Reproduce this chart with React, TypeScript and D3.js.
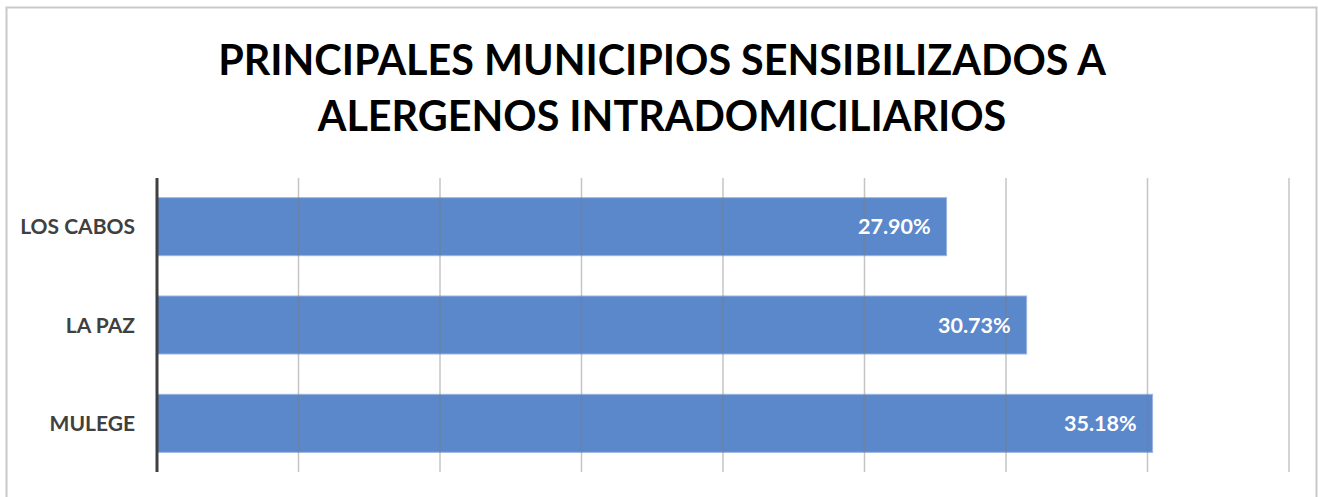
import * as d3 from 'd3';

const TITLE_LINES = ['PRINCIPALES MUNICIPIOS SENSIBILIZADOS A', 'ALERGENOS INTRADOMICILIARIOS'];
const MUNICIPIOS = ['LOS CABOS', 'LA PAZ', 'MULEGE'];
const PORCENTAJES = [27.9, 30.73, 35.18];
const GRID_TICKS = [0, 5, 10, 15, 20, 25, 30, 35, 40];

const WIDTH = 1318;
const HEIGHT = 497;
const FONT = 'Lato, "Open Sans", sans-serif';

export default function App() {
  const plot = { left: 157, right: 1289, top: 178, bottom: 472 };

  const x = d3.scaleLinear().domain([0, 40]).range([plot.left, plot.right]);
  const y = d3.scaleBand<string>()
    .domain(MUNICIPIOS)
    .range([plot.top, plot.bottom])
    .paddingInner(0.41)
    .paddingOuter(0.2);

  return (
    <svg
      width={WIDTH}
      height={HEIGHT}
      style={{ position: 'absolute', left: 0, top: 0, background: '#fff' }}
      fontFamily={FONT}
    >
      {/* chart frame */}
      <rect x={6.5} y={7.5} width={1310} height={500} fill="#fff" stroke="#c9c9c9" strokeWidth={2} />

      {/* title */}
      {TITLE_LINES.map((t, i) => (
        <text
          key={t}
          x={WIDTH / 2 + 3}
          y={75 + i * 56}
          textAnchor="middle"
          fontSize={41.3}
          fontWeight={700}
          fill="#000"
        >
          {t}
        </text>
      ))}

      {/* bars */}
      {MUNICIPIOS.map((m, i) => (
        <rect
          key={m}
          x={x(0)}
          y={y(m)}
          width={x(PORCENTAJES[i]) - x(0)}
          height={y.bandwidth()}
          fill="#5b87cb"
          stroke="#9ab5e0"
          strokeWidth={1}
        />
      ))}

      {/* vertical gridlines, drawn over the bars */}
      {GRID_TICKS.slice(1).map((t) => (
        <line
          key={t}
          x1={x(t)}
          x2={x(t)}
          y1={plot.top}
          y2={plot.bottom}
          stroke="#7f7f7f"
          strokeOpacity={0.45}
          strokeWidth={1.5}
        />
      ))}

      {/* category axis */}
      <line x1={x(0)} x2={x(0)} y1={plot.top} y2={plot.bottom} stroke="#404040" strokeWidth={3} />

      {MUNICIPIOS.map((m) => (
        <text
          key={m}
          x={135}
          y={(y(m) ?? 0) + y.bandwidth() / 2}
          dy="0.36em"
          textAnchor="end"
          fontSize={21}
          fontWeight={700}
          fill="#404040"
        >
          {m}
        </text>
      ))}

      {/* value labels */}
      {MUNICIPIOS.map((m, i) => (
        <text
          key={m}
          x={x(PORCENTAJES[i]) - 16}
          y={(y(m) ?? 0) + y.bandwidth() / 2}
          dy="0.36em"
          textAnchor="end"
          fontSize={21.5}
          fontWeight={700}
          fill="#fff"
        >
          {PORCENTAJES[i].toFixed(2)}%
        </text>
      ))}
    </svg>
  );
}
